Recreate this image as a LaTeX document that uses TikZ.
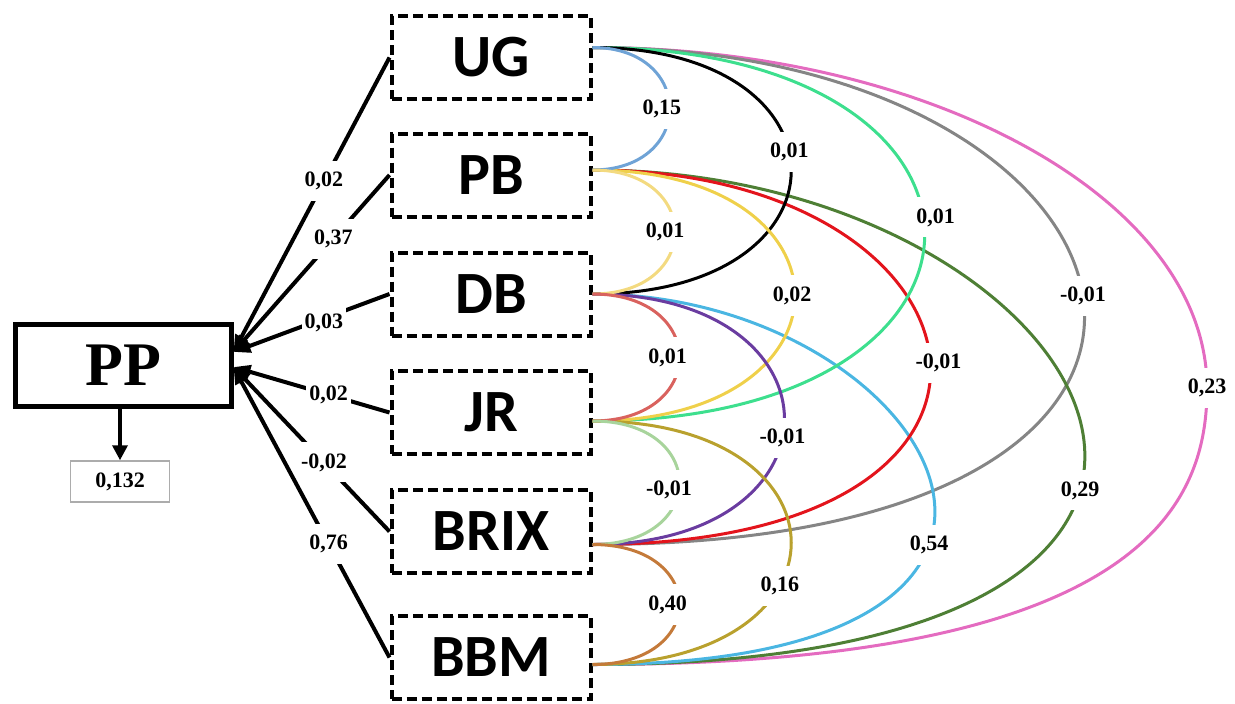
\documentclass[tikz,border=0pt]{standalone}
\usepackage{fontspec}
\setmainfont{Liberation Serif}
\newfontfamily\boxfont{Carlito}
\usetikzlibrary{arrows.meta}
\definecolor{cUGPB}{HTML}{6FA3D6}
\definecolor{cUGJR}{HTML}{3DDF8E}
\definecolor{cUGBRIX}{HTML}{858585}
\definecolor{cUGBBM}{HTML}{E46BC0}
\definecolor{cPBDB}{HTML}{F3DA80}
\definecolor{cPBJR}{HTML}{EFD04A}
\definecolor{cPBBRIX}{HTML}{E3141C}
\definecolor{cPBBBM}{HTML}{4E7F35}
\definecolor{cDBJR}{HTML}{D9625E}
\definecolor{cDBBRIX}{HTML}{6A3CA0}
\definecolor{cDBBBM}{HTML}{4AB6E2}
\definecolor{cJRBRIX}{HTML}{A8D49C}
\definecolor{cJRBBM}{HTML}{B9A12E}
\definecolor{cBRIXBBM}{HTML}{C47A3A}
\tikzset{
  varbox/.style={draw, fill=white, line width=4pt, dash pattern=on 10pt off 5pt,
    minimum width=199pt, minimum height=83pt, inner sep=0pt,
    font=\boxfont\bfseries\fontsize{60}{60}\selectfont},
  ppbox/.style={draw, fill=white, line width=5pt, minimum width=216pt, minimum height=82pt,
    inner sep=0pt, font=\bfseries\fontsize{62}{62}\selectfont},
  resbox/.style={draw=gray!65, line width=1.5pt, minimum width=99pt, minimum height=41pt,
    inner sep=0pt, font=\bfseries\fontsize{22}{22}\selectfont},
  pathline/.style={line width=4pt, -{Triangle[length=17pt,width=13pt]}},
  resarrow/.style={line width=3.5pt, -{Triangle[length=15pt,width=15pt]}},
  corrline/.style={line width=3pt},
  numlbl/.style={fill=white, inner xsep=3pt, inner ysep=11pt,
    font=\bfseries\fontsize{22}{22}\selectfont},
}
\newif\iflabelpass
\newcommand\corr[8]{%
  \iflabelpass
    \path (#1) .. controls +(#4,0) and +(#5,0) .. (#2) node[numlbl,pos=#6,xshift=#7]{#8};
  \else
    \draw[corrline,#3] (#1) .. controls +(#4,0) and +(#5,0) .. (#2);
  \fi}
\newcommand\corrdata{%
  \corr{UGr}{BRIXr}{cUGBRIX}{580}{728}{.5}{0pt}{-0,01}
  \corr{PBr}{BBMr}{cPBBBM}{508}{790}{.6}{0pt}{0,29}
  \corr{DBr}{BBMr}{cDBBBM}{340}{560}{.62}{0pt}{0,54}
  \corr{PBr}{BRIXr}{cPBBRIX}{410}{490}{.51}{8pt}{-0,01}
  \corr{UGr}{JRr}{cUGJR}{443}{443}{.47}{12pt}{0,01}
  \corr{UGr}{DBr}{black}{265}{265}{.45}{0pt}{0,01}
  \corr{PBr}{JRr}{cPBJR}{270}{270}{.5}{-3pt}{0,02}
  \corr{DBr}{BRIXr}{cDBBRIX}{256}{256}{.55}{0pt}{-0,01}
  \corr{JRr}{BBMr}{cJRBBM}{265}{265}{.62}{0pt}{0,16}
  \corr{UGr}{PBr}{cUGPB}{103}{103}{.5}{-8pt}{0,15}
  \corr{PBr}{DBr}{cPBDB}{110}{110}{.5}{-10pt}{0,01}
  \corr{DBr}{JRr}{cDBJR}{116}{116}{.5}{-12pt}{0,01}
  \corr{JRr}{BRIXr}{cJRBRIX}{116}{116}{.54}{-10pt}{-0,01}
  \corr{BRIXr}{BBMr}{cBRIXBBM}{116}{116}{.5}{-12pt}{0,40}
}
\begin{document}
\begin{tikzpicture}[x=1pt,y=-1pt]
\useasboundingbox (0,0) rectangle (1235,704);
% nodes
\node[ppbox] (PP) at (123,365) {PP};
\node[resbox] (res) at (120,481.5) {0,132};
\node[varbox] (UG) at (491,57.5) {UG};
\node[varbox] (PB) at (491,175) {PB};
\node[varbox] (DB) at (491,294) {DB};
\node[varbox] (JR) at (491,412.5) {JR};
\node[varbox] (BRIX) at (491,531.5) {BRIX};
\node[varbox] (BBM) at (491,657.5) {BBM};
% connector ends
\coordinate (PPa) at ([yshift=13pt]PP.east);
\coordinate (PPb) at ([yshift=-2pt]PP.east);
\coordinate (UGr) at ([yshift=10pt]UG.east);
\coordinate (PBr) at ([yshift=5pt]PB.east);
\coordinate (DBr) at (DB.east);
\coordinate (JRr) at ([yshift=-8.5pt]JR.east);
\coordinate (BRIXr) at ([yshift=-13pt]BRIX.east);
\coordinate (BBMr) at ([yshift=-7pt]BBM.east);
% residual arrow
\draw[resarrow] (PP.south -| res.north) -- (res.north);
% path lines
\draw[pathline] (UG.west) -- (PPa);
\draw[pathline] (PB.west) -- (PPa);
\draw[pathline] (DB.west) -- (PPa);
\draw[pathline] (JR.west) -- (PPb);
\draw[pathline] (BRIX.west) -- (PPb);
\draw[pathline] (BBM.west) -- (PPb);
% correlation arcs
\draw[corrline,cUGBBM] (UGr) .. controls +(339,0) and +(0,-188) .. (1207,388)
  .. controls +(0,110) and +(560,0) .. (BBMr);
\labelpassfalse
\corrdata
% labels on top
\path (UG.west) -- (PPa) node[numlbl,pos=.42]{0,02};
\path (PB.west) -- (PPa) node[numlbl,pos=.36]{0,37};
\path (DB.west) -- (PPa) node[numlbl,pos=.42,yshift=-5pt]{0,03};
\path (JR.west) -- (PPb) node[numlbl,pos=.39]{0,02};
\path (BRIX.west) -- (PPb) node[numlbl,pos=.42]{-0,02};
\path (BBM.west) -- (PPb) node[numlbl,pos=.39]{0,76};
\path (UGr) .. controls +(339,0) and +(0,-188) .. (1207,388) node[numlbl]{0,23};
\labelpasstrue
\corrdata
\end{tikzpicture}
\end{document}
